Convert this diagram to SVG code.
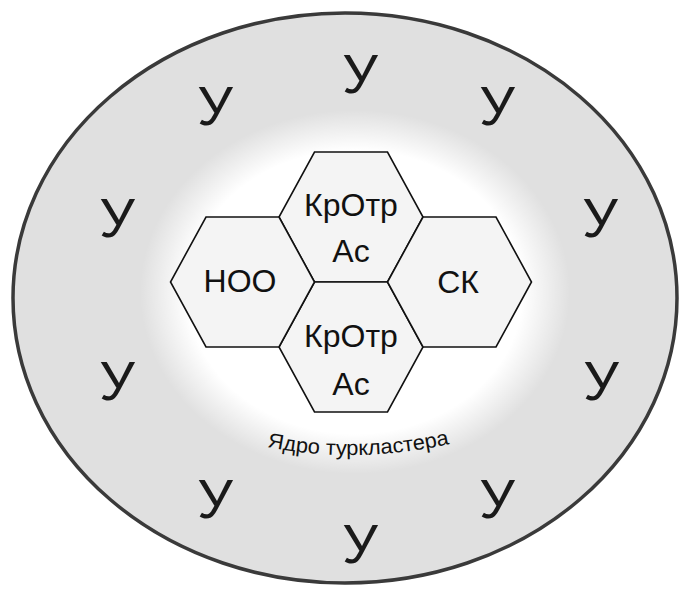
<svg xmlns="http://www.w3.org/2000/svg" width="680" height="591" viewBox="0 0 680 591">
<style>
.hex{fill:#f4f4f4;stroke:#111;stroke-width:1.6;stroke-linejoin:miter}
.ht{font-family:"Liberation Sans",Arial,sans-serif;font-size:32px;fill:#111;text-anchor:middle}
.u{font-family:"Liberation Sans",Arial,sans-serif;font-size:56px;fill:#1a1a1a;text-anchor:middle}
.core{font-family:"Liberation Sans",Arial,sans-serif;font-size:21px;fill:#111}
</style>
<defs>
<radialGradient id="white" cx="0.5" cy="0.5" r="0.5">
<stop offset="0" stop-color="#fff" stop-opacity="1"/>
<stop offset="0.78" stop-color="#fff" stop-opacity="1"/>
<stop offset="1" stop-color="#fff" stop-opacity="0"/>
</radialGradient>
<path id="arc" d="M267,447 Q358,465 454,443"/>
</defs>
<rect width="680" height="591" fill="#fff"/>
<g id="cluster">
<ellipse cx="345" cy="298" rx="332" ry="285" fill="#e0e0e0" stroke="#3a3a3a" stroke-width="3.5"/>
<ellipse cx="355" cy="292" rx="215" ry="182" fill="url(#white)"/>
</g>
<g id="u-letters">
<text class="u" x="215" y="125">У</text>
<text class="u" x="360" y="93">У</text>
<text class="u" x="497" y="125">У</text>
<text class="u" x="117" y="237">У</text>
<text class="u" x="600" y="237">У</text>
<text class="u" x="117" y="400">У</text>
<text class="u" x="601" y="400">У</text>
<text class="u" x="215" y="518">У</text>
<text class="u" x="497" y="518">У</text>
<text class="u" x="360" y="563">У</text>
</g>
<g id="hex-top">
<polygon class="hex" points="314.5,152 387.5,152 423,217 387.5,282 314.5,282 279,217"/>
<text class="ht" x="351" y="216">КрОтр</text>
<text class="ht" x="351" y="262">Ас</text>
</g>
<g id="hex-bottom">
<polygon class="hex" points="314.5,282 387.5,282 423,347 387.5,412 314.5,412 279,347"/>
<text class="ht" x="351" y="347">КрОтр</text>
<text class="ht" x="351" y="395">Ас</text>
</g>
<g id="hex-left">
<polygon class="hex" points="206,217 279,217 314.5,282 279,347 206,347 170.5,282"/>
<text class="ht" x="240" y="292">НОО</text>
</g>
<g id="hex-right">
<polygon class="hex" points="423,217 496,217 531.5,282 496,347 423,347 387.5,282"/>
<text class="ht" x="458" y="293">СК</text>
</g>
<g id="core-label">
<text class="core"><textPath href="#arc" textLength="184" lengthAdjust="spacingAndGlyphs">Ядро туркластера</textPath></text>
</g>
<g id="connectors"/>
</svg>
